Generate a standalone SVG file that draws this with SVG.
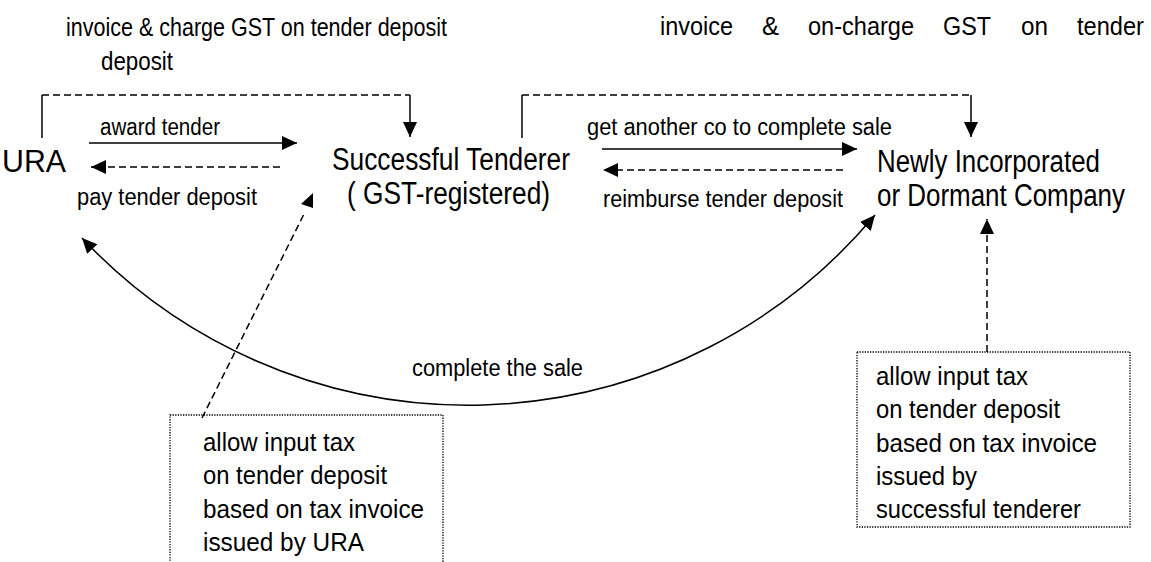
<svg xmlns="http://www.w3.org/2000/svg" width="1151" height="562" viewBox="0 0 1151 562">
<style>
text{font-family:"Liberation Sans",Arial,sans-serif;fill:#000}
.title{font-size:26px}
.node{font-size:31px}
.lbl{font-size:23px}
.box{font-size:25px}
.solid{fill:none;stroke:#000;stroke-width:1.5}
.dash{fill:none;stroke:#000;stroke-width:1.5;stroke-dasharray:7 4}
.dot{fill:none;stroke:#000;stroke-width:1.3;stroke-dasharray:1.3 1.3}
</style>
<defs>
<marker id="ah" markerUnits="userSpaceOnUse" markerWidth="16" markerHeight="16" refX="15" refY="7" orient="auto">
<path d="M0,0 L15,7 L0,14 z" fill="#000"/>
</marker>
<marker id="ahs" markerUnits="userSpaceOnUse" markerWidth="16" markerHeight="16" refX="0" refY="7" orient="auto">
<path d="M15,0 L0,7 L15,14 z" fill="#000"/>
</marker>
</defs>
<g id="title-left">
<text class="title" x="66" y="36" textLength="381" lengthAdjust="spacingAndGlyphs">invoice &amp; charge GST on tender deposit</text>
<text class="title" x="101" y="70" textLength="72" lengthAdjust="spacingAndGlyphs">deposit</text>
</g>
<g id="title-right">
<text class="title" x="660" y="35" textLength="73" lengthAdjust="spacingAndGlyphs">invoice</text>
<text class="title" x="762" y="35" textLength="17" lengthAdjust="spacingAndGlyphs">&amp;</text>
<text class="title" x="808" y="35" textLength="106" lengthAdjust="spacingAndGlyphs">on-charge</text>
<text class="title" x="943" y="35" textLength="48" lengthAdjust="spacingAndGlyphs">GST</text>
<text class="title" x="1021" y="35" textLength="27" lengthAdjust="spacingAndGlyphs">on</text>
<text class="title" x="1077" y="35" textLength="67" lengthAdjust="spacingAndGlyphs">tender</text>
</g>
<g id="node-ura">
<text class="node" x="2" y="172" textLength="64" lengthAdjust="spacingAndGlyphs">URA</text>
</g>
<g id="node-tenderer">
<text class="node" x="332" y="170" textLength="238" lengthAdjust="spacingAndGlyphs">Successful Tenderer</text>
<text class="node" x="347" y="204" textLength="203" lengthAdjust="spacingAndGlyphs">( GST-registered)</text>
</g>
<g id="node-company">
<text class="node" x="877" y="172" textLength="223" lengthAdjust="spacingAndGlyphs">Newly Incorporated</text>
<text class="node" x="877" y="206" textLength="248" lengthAdjust="spacingAndGlyphs">or Dormant Company</text>
</g>
<g id="note-left">
<rect class="dot" x="170" y="415" width="273" height="160"/>
<text class="box" x="203" y="451" textLength="152" lengthAdjust="spacingAndGlyphs">allow input tax</text>
<text class="box" x="203" y="484" textLength="184" lengthAdjust="spacingAndGlyphs">on tender deposit</text>
<text class="box" x="203" y="518" textLength="221" lengthAdjust="spacingAndGlyphs">based on tax invoice</text>
<text class="box" x="203" y="551" textLength="161" lengthAdjust="spacingAndGlyphs">issued by URA</text>
</g>
<g id="note-right">
<rect class="dot" x="857" y="352" width="273" height="175"/>
<text class="box" x="876" y="385" textLength="152" lengthAdjust="spacingAndGlyphs">allow input tax</text>
<text class="box" x="876" y="418" textLength="184" lengthAdjust="spacingAndGlyphs">on tender deposit</text>
<text class="box" x="876" y="452" textLength="221" lengthAdjust="spacingAndGlyphs">based on tax invoice</text>
<text class="box" x="876" y="485" textLength="101" lengthAdjust="spacingAndGlyphs">issued by</text>
<text class="box" x="876" y="518" textLength="205" lengthAdjust="spacingAndGlyphs">successful tenderer</text>
</g>
<g id="connectors">
<line class="solid" x1="89" y1="143" x2="297" y2="143" marker-end="url(#ah)"/>
<line class="dash" x1="280" y1="167" x2="91" y2="167" marker-end="url(#ah)"/>
<line class="solid" x1="602" y1="149" x2="857" y2="149" marker-end="url(#ah)"/>
<line class="dash" x1="843" y1="170" x2="603" y2="170" marker-end="url(#ah)"/>
<path class="solid" d="M42,138 V95"/>
<path class="dash" d="M42,95 H410"/>
<path class="solid" d="M410,95 V137" marker-end="url(#ah)"/>
<path class="solid" d="M522,138 V95"/>
<path class="dash" d="M522,95 H971"/>
<path class="solid" d="M971,95 V137" marker-end="url(#ah)"/>
<path class="solid" d="M82,238 A530,530 0 0 0 875,215" marker-start="url(#ahs)" marker-end="url(#ah)"/>
<line class="dash" x1="202" y1="418" x2="305" y2="212"/>
<polygon points="301,204 313,193 313,208" fill="#000"/>
<line class="dash" x1="987" y1="352" x2="987" y2="219" marker-end="url(#ah)"/>
<text class="lbl" x="100" y="135" textLength="120" lengthAdjust="spacingAndGlyphs">award tender</text>
<text class="lbl" x="77" y="205" textLength="180" lengthAdjust="spacingAndGlyphs">pay tender deposit</text>
<text class="lbl" x="587" y="135" textLength="305" lengthAdjust="spacingAndGlyphs">get another co to complete sale</text>
<text class="lbl" x="603" y="207" textLength="240" lengthAdjust="spacingAndGlyphs">reimburse tender deposit</text>
<text class="lbl" x="412" y="376" textLength="171" lengthAdjust="spacingAndGlyphs">complete the sale</text>
</g>
</svg>
